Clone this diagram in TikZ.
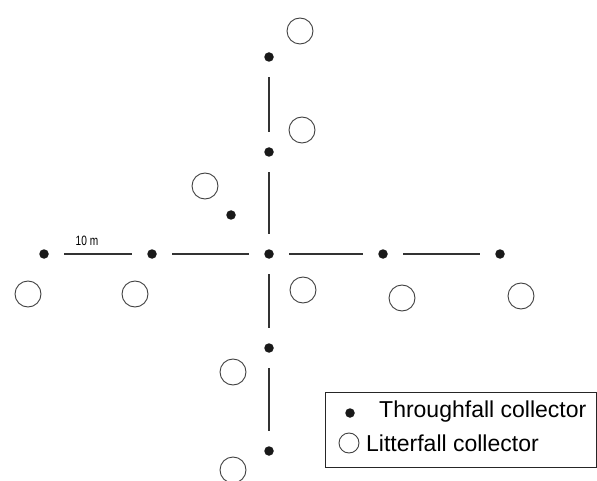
\documentclass[tikz,border=0pt]{standalone}
\usepackage{fontspec}
\setmainfont{Liberation Sans}
\begin{document}
\begin{tikzpicture}[x=1pt,y=-1pt,
  tf/.style={circle,fill=black!90,inner sep=0pt,minimum size=9.5pt},
  lf/.style={circle,draw=black!75,line width=0.9pt,inner sep=0pt,minimum size=26pt},
  link/.style={draw=black!80,line width=1.3pt,shorten >=15.5pt,shorten <=15.5pt}]
\useasboundingbox (0,0) rectangle (597,481);
% throughfall collectors
\node[tf] (n1) at (269,57) {};
\node[tf] (n2) at (269,152) {};
\node[tf] (d) at (231,215) {};
\node[tf] (c) at (269,254) {};
\node[tf] (w2) at (44,254) {};
\node[tf] (w1) at (152,254) {};
\node[tf] (e1) at (383,254) {};
\node[tf] (e2) at (500,254) {};
\node[tf] (s1) at (269,348) {};
\node[tf] (s2) at (269,451) {};
% litterfall collectors
\node[lf] (l1) at (300,31) {};
\node[lf] (l2) at (302,130) {};
\node[lf] (l3) at (205,186) {};
\node[lf] (l4) at (28,294) {};
\node[lf] (l5) at (135,294) {};
\node[lf] (l6) at (303,290) {};
\node[lf] (l7) at (402,298) {};
\node[lf] (l8) at (521,296) {};
\node[lf] (l9) at (233,372) {};
\node[lf] (l10) at (233,470) {};
% connectors
\draw[link] (n1) -- (n2);
\draw[link] (n2) -- (c);
\draw[link] (c) -- (s1);
\draw[link] (s1) -- (s2);
\draw[link] (w2) -- (w1);
\draw[link] (w1) -- (c);
\draw[link] (c) -- (e1);
\draw[link] (e1) -- (e2);
% scale label
\node[font=\fontsize{13.5}{13.5}\selectfont,xscale=0.75] (lab) at (87,241) {10 m};
% legend
\node[draw=black!85,line width=1pt,minimum width=271pt,minimum height=75pt,inner sep=0pt] (box) at (460.5,429.5) {};
\node[tf] (ltf) at (350,413) {};
\node[lf,minimum size=20pt] (llf) at (349,443) {};
\node[anchor=west,font=\fontsize{23}{23}\selectfont,inner sep=0pt] (t1) at (379,412) {Throughfall collector};
\node[anchor=west,font=\fontsize{23}{23}\selectfont,inner sep=0pt] (t2) at (366,443) {Litterfall collector};
\end{tikzpicture}
\end{document}
